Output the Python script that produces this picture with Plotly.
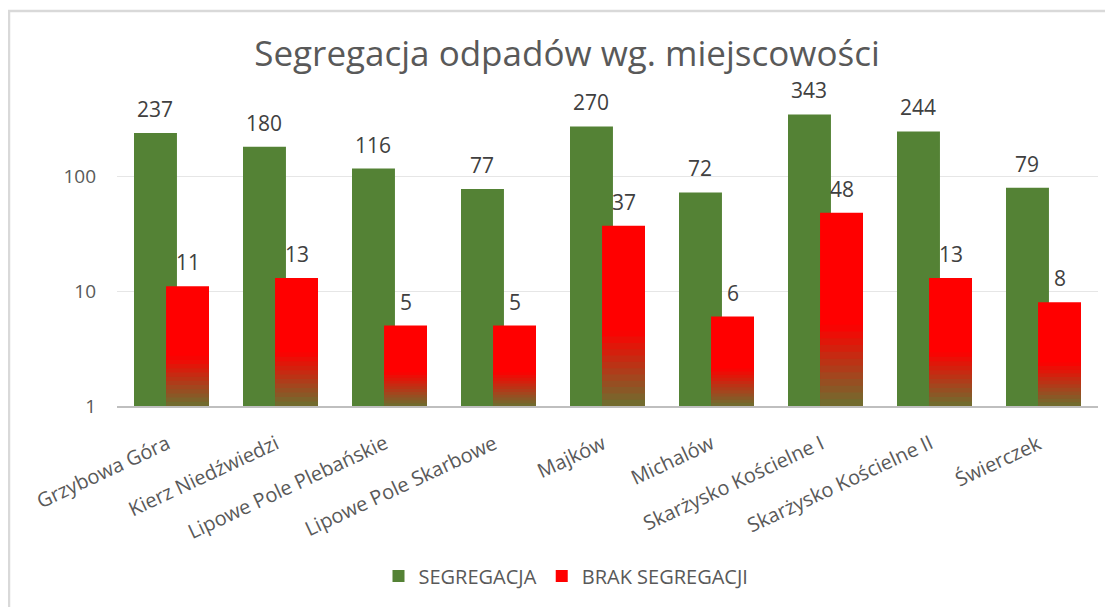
import math
import plotly.graph_objects as go

categories = ["Grzybowa Góra", "Kierz Niedźwiedzi", "Lipowe Pole Plebańskie",
              "Lipowe Pole Skarbowe", "Majków", "Michalów",
              "Skarżysko Kościelne I", "Skarżysko Kościelne II", "Świerczek"]
segregacja = [237, 180, 116, 77, 270, 72, 343, 244, 79]
brak_segregacji = [11, 13, 5, 5, 37, 6, 48, 13, 8]
y_ticks = [1, 10, 100]

GREEN = "#548235"
RED = "#FF0000"
FONT = "Open Sans"

# page has an 8px body margin: work in figure pixels
OFF = 8
W, H = 1113 - OFF, 607 - OFF
L, T = 117 - OFF, 70 - OFF
R = W - (1098 - OFF)
B = H - (406 - OFF)
plot_w = W - L - R
plot_h = H - T - B
decade = 115.0
cat_px = plot_w / len(categories)

G_OFF, R_OFF, BW = -0.344, -0.05, 0.394

fig = go.Figure()

fig.add_trace(go.Bar(
    x=categories, y=segregacja, name="SEGREGACJA",
    marker=dict(color=GREEN, line=dict(width=0)),
    offset=G_OFF, width=BW, hoverinfo="x+y",
))
fig.add_trace(go.Bar(
    x=categories, y=brak_segregacji, name="BRAK SEGREGACJI",
    marker=dict(color=RED, line=dict(width=0)),
    offset=R_OFF, width=BW, hoverinfo="x+y",
))

# gradient emulation on the lower part of the red bars (style only, derived from data)
steps = 12
top_frac = 0.42
bottom_rgb = (108, 112, 48)
for k in range(steps):
    f = top_frac * (steps - k) / steps
    t = (f - top_frac / (2 * steps)) / top_frac
    r = int(bottom_rgb[0] + (255 - bottom_rgb[0]) * t)
    g = int(bottom_rgb[1] * (1 - t))
    b = int(bottom_rgb[2] * (1 - t))
    fig.add_trace(go.Bar(
        x=categories, y=[v ** f for v in brak_segregacji],
        marker=dict(color=f"rgb({r},{g},{b})", line=dict(width=0)),
        offset=R_OFF, width=BW, showlegend=False, hoverinfo="skip",
    ))

annotations = []
for cat, gv, rv in zip(categories, segregacja, brak_segregacji):
    annotations.append(dict(
        x=cat, y=math.log10(gv), xref="x", yref="y", text=str(gv),
        showarrow=False, xanchor="center", yanchor="bottom", borderpad=0,
        xshift=(G_OFF + BW / 2) * cat_px, yshift=9,
        font=dict(family=FONT, size=21, color="#404040")))
    annotations.append(dict(
        x=cat, y=math.log10(rv), xref="x", yref="y", text=str(rv),
        showarrow=False, xanchor="center", yanchor="bottom", borderpad=0,
        xshift=(R_OFF + BW / 2) * cat_px, yshift=9,
        font=dict(family=FONT, size=21, color="#404040")))
    # category labels (rotated, end of text at the category centre)
    annotations.append(dict(
        x=cat, y=0, xref="x", yref="paper", text=cat,
        showarrow=False, textangle=-25, xanchor="right", yanchor="top",
        xshift=5, yshift=-20,
        font=dict(family=FONT, size=20, color="#595959")))


def px_x(px):
    return (px - OFF - L) / plot_w


def px_y(py):
    return (H - B - (py - OFF)) / plot_h


fig.update_layout(
    width=W, height=H,
    margin=dict(l=L, r=R, t=T, b=B, autoexpand=False),
    barmode="overlay",
    paper_bgcolor="white", plot_bgcolor="white",
    font=dict(family=FONT, color="#595959"),
    title=dict(text="Segregacja odpadów wg. miejscowości",
               font=dict(family=FONT, size=35, color="#595959"),
               x=(567 - OFF) / W, xref="container", xanchor="center",
               y=1 - (54 - OFF) / H, yref="container", yanchor="middle"),
    xaxis=dict(type="category", showticklabels=False,
               showline=True, linecolor="#bfbfbf", linewidth=2,
               showgrid=False, ticks="", range=[-0.5, len(categories) - 0.5]),
    yaxis=dict(type="log", range=[0, plot_h / decade],
               tickvals=y_ticks, ticktext=[str(v) for v in y_ticks],
               tickfont=dict(family=FONT, size=19, color="#595959"),
               showgrid=True, gridcolor="#e6e6e6", gridwidth=1,
               showline=False, zeroline=False, ticks="",
               ticklabelstandoff=20),
    legend=dict(orientation="h", xref="container", yref="container",
                x=(566 - OFF) / W, xanchor="center",
                y=1 - (576 - OFF) / H, yanchor="middle",
                font=dict(family=FONT, size=20, color="#595959"),
                traceorder="normal"),
    showlegend=True,
    annotations=annotations,
    shapes=[
        dict(type="line", xref="paper", yref="paper",
             x0=px_x(9), x1=px_x(9), y0=px_y(10), y1=px_y(620),
             line=dict(color="#d9d9d9", width=2.5)),
        dict(type="line", xref="paper", yref="paper",
             x0=px_x(8), x1=px_x(1120), y0=px_y(11), y1=px_y(11),
             line=dict(color="#d9d9d9", width=2.5)),
    ],
)

fig.write_html("out.html")
